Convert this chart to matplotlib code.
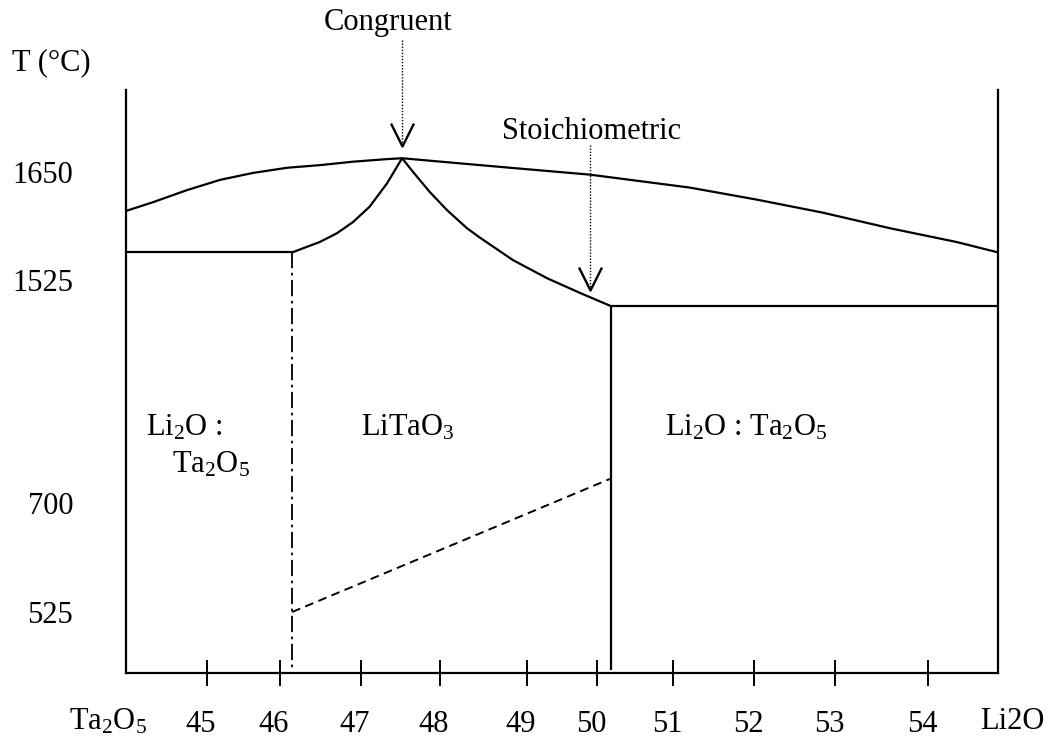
import numpy as np
import matplotlib
matplotlib.use("Agg")
import matplotlib.pyplot as plt
from matplotlib.transforms import ScaledTranslation
from matplotlib.path import Path

plt.rcParams['font.family'] = ['Liberation Serif', 'DejaVu Serif']
plt.rcParams['mathtext.fontset'] = 'custom'
plt.rcParams['mathtext.rm'] = 'Liberation Serif'
plt.rcParams['mathtext.it'] = 'Liberation Serif:italic'

# ---------------- data (composition in mol% Li2O, temperature in °C) ----------------
x_tick_values = [45, 46, 47, 48, 49, 50, 51, 52, 53, 54]
x_tick_labels = ['45', '46', '47', '48', '49', '50', '51', '52', '53', '54']
y_tick_values = [1650, 1525, 700, 525]
y_tick_labels = ['1650', '1525', '700', '525']

liquidus_comp = [44.0, 44.33, 44.75, 45.18, 45.63, 46.09, 46.49, 46.90, 47.33, 47.52,
                 48.69, 49.90, 51.21, 52.04, 52.85, 53.59, 54.41, 55.0]
liquidus_T = [1605, 1615, 1629, 1641, 1649, 1655, 1658, 1662, 1665, 1666,
              1656, 1647, 1632, 1618, 1603, 1585, 1569, 1557]

left_flat_comp = [44.0, 46.15]
left_flat_T = [1557, 1557]
left_rise_comp = [46.15, 46.49, 46.70, 46.90, 47.11, 47.33, 47.52]
left_rise_T = [1557, 1569, 1579, 1592, 1610, 1637, 1666]
right_fall_comp = [47.52, 47.66, 47.87, 48.08, 48.31, 48.46, 48.84, 49.29, 49.76, 50.18]
right_fall_T = [1666, 1650, 1627, 1606, 1585, 1574, 1548, 1527, 1477, 1429]
right_flat_comp = [50.18, 55.0]
right_flat_T = [1429, 1429]

left_boundary_comp = 46.15          # dash-dot phase boundary
right_boundary_comp = 50.18         # solid phase boundary
dashed_comp = [46.15, 50.17]
dashed_T = [525, 789]

congruent_comp = 47.52
stoich_comp = 49.90

# axis calibration of the (non-uniform) drawing
x_cal_comp = [44, 45, 46, 47, 48, 49, 50, 51, 52, 53, 54, 55]
x_cal_pos = [126, 207, 280, 361, 440, 527, 597, 673, 754, 835, 928, 998]
y_cal_T = [525, 700, 1525, 1650]
y_cal_pos = [-612, -503, -280, -172]


def piecewise(xs, ys):
    xs = np.asarray(xs, float)
    ys = np.asarray(ys, float)
    def f(v):
        v = np.asarray(v, float)
        out = np.interp(v, xs, ys)
        s0 = (ys[1] - ys[0]) / (xs[1] - xs[0])
        s1 = (ys[-1] - ys[-2]) / (xs[-1] - xs[-2])
        out = np.where(v < xs[0], ys[0] + (v - xs[0]) * s0, out)
        out = np.where(v > xs[-1], ys[-1] + (v - xs[-1]) * s1, out)
        return out
    return f


fig = plt.figure(figsize=(10.48, 7.37), dpi=100)
ax = fig.add_axes([126 / 1048, 64 / 737, 872 / 1048, 583 / 737])

ax.set_xscale('function', functions=(piecewise(x_cal_comp, x_cal_pos),
                                     piecewise(x_cal_pos, x_cal_comp)))
ax.set_yscale('function', functions=(piecewise(y_cal_T, y_cal_pos),
                                     piecewise(y_cal_pos, y_cal_T)))
ax.set_xlim(44, 55)
ax.set_ylim(427, 1745)

lw = 1.6
k = dict(color='black', lw=lw, solid_capstyle='butt', solid_joinstyle='round')
ax.plot(liquidus_comp, liquidus_T, **k)
ax.plot(left_flat_comp, left_flat_T, **k)
ax.plot(left_rise_comp, left_rise_T, **k)
ax.plot(right_fall_comp, right_fall_T, **k)
ax.plot(right_flat_comp, right_flat_T, **k)
ax.plot([right_boundary_comp, right_boundary_comp], [right_flat_T[0], 432], **k)
ax.plot([left_boundary_comp, left_boundary_comp], [left_flat_T[0], 432],
        color='black', lw=1.3, linestyle=(0, (9, 2.5, 1.5, 2.5)))
ax.plot(dashed_comp, dashed_T, color='black', lw=1.4, linestyle=(0, (4.5, 2.8)))

# arrows (dotted shafts, V heads)
head = Path([(-0.5, 1), (0, 0), (0.5, 1)], [Path.MOVETO, Path.LINETO, Path.LINETO])
for comp, t_top, t_tip in [(congruent_comp, 1803, 1680), (stoich_comp, 1681, 1488)]:
    ax.plot([comp, comp], [t_top, t_tip], color='black', lw=1.0,
            linestyle=(0, (1, 1.2)), clip_on=False)
    ax.plot([comp], [t_tip], marker=head, markersize=33, markerfacecolor='none',
            markeredgecolor='black', markeredgewidth=1.7, linestyle='none', clip_on=False)

fs = 22
ax.text(0.3005, 1.115, 'Congruent', transform=ax.transAxes, ha='center', va='center', fontsize=fs)
ax.text(0.534, 0.928, 'Stoichiometric', transform=ax.transAxes, ha='center', va='center', fontsize=fs)
ax.text(-0.131, 1.046, 'T (°C)', transform=ax.transAxes, ha='left', va='center', fontsize=fs)

ax.text(0.023, 0.420, r'Li$_\mathregular{2}$O :', transform=ax.transAxes, ha='left', va='center', fontsize=fs)
ax.text(0.053, 0.357, r'Ta$_\mathregular{2}$O$_\mathregular{5}$', transform=ax.transAxes, ha='left', va='center', fontsize=fs)
ax.text(0.2695, 0.420, r'LiTaO$_\mathregular{3}$', transform=ax.transAxes, ha='left', va='center', fontsize=fs)
ax.text(0.618, 0.420, r'Li$_\mathregular{2}$O : Ta$_\mathregular{2}$O$_\mathregular{5}$', transform=ax.transAxes,
        ha='left', va='center', fontsize=fs)

# end labels of the composition axis
ax.text(-0.021, -0.084, r'Ta$_\mathregular{2}$O$_\mathregular{5}$', transform=ax.transAxes,
        ha='center', va='center', fontsize=fs)
ax.text(1.016, -0.084, 'Li2O', transform=ax.transAxes, ha='center', va='center', fontsize=fs)

ax.set_xticks(x_tick_values)
ax.set_xticklabels(x_tick_labels, fontsize=fs)
ax.set_yticks(y_tick_values)
ax.set_yticklabels(y_tick_labels, fontsize=fs)
ax.minorticks_off()
ax.tick_params(axis='x', direction='inout', length=19, width=1.4, pad=17)
ax.tick_params(axis='y', length=0, pad=38)
for lab in ax.get_xticklabels():
    lab.set_transform(lab.get_transform() + ScaledTranslation(-6 / 100, 0, fig.dpi_scale_trans))

ax.spines['top'].set_visible(False)
for s in ['left', 'right', 'bottom']:
    ax.spines[s].set_linewidth(1.6)

fig.savefig('out.png', dpi=100)
